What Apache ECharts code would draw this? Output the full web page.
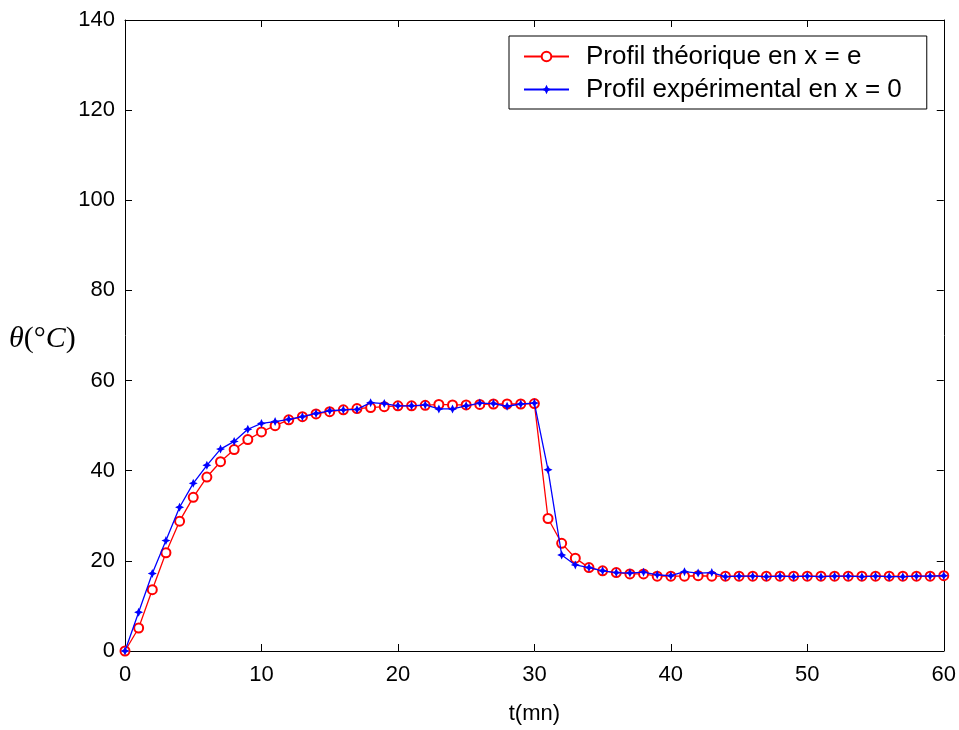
<!DOCTYPE html>
<html>
<head>
<meta charset="utf-8">
<script src="https://cdn.jsdelivr.net/npm/echarts@6/dist/echarts.min.js"></script>
<style>html,body{margin:0;padding:0;background:#fff;}#c{width:959px;height:730px;}</style>
</head>
<body>
<div id="c"></div>
<script>
// time in minutes, 0..60
const times = [];
for (let t = 0; t <= 60; t++) times.push(t);

const theoName = 'Profil théorique en x = e';
const expName = 'Profil expérimental en x = 0';

const theoValues = [
  0, 5.1, 13.6, 21.8, 28.8, 34.1, 38.6, 42.0, 44.7, 46.9,
  48.6, 50.0, 51.3, 52.0, 52.6, 53.1, 53.5, 53.8, 54.0, 54.2,
  54.4, 54.4, 54.5, 54.7, 54.6, 54.6, 54.7, 54.8, 54.8, 54.8,
  54.9, 29.4, 23.9, 20.6, 18.5, 17.8, 17.4, 17.1, 17.1, 16.6,
  16.6, 16.6, 16.7, 16.6, 16.6, 16.6, 16.6, 16.6, 16.6, 16.6,
  16.6, 16.6, 16.6, 16.6, 16.6, 16.6, 16.6, 16.6, 16.6, 16.6,
  16.7
];

const expValues = [
  0, 8.6, 17.2, 24.5, 31.9, 37.2, 41.2, 44.8, 46.5, 49.2,
  50.5, 50.9, 51.4, 52.0, 52.7, 53.3, 53.5, 53.6, 55.1, 54.9,
  54.4, 54.4, 54.6, 53.7, 53.7, 54.4, 55.0, 54.9, 54.3, 54.8,
  55.0, 40.2, 21.3, 19.1, 18.5, 17.8, 17.4, 17.3, 17.5, 16.9,
  16.7, 17.6, 17.3, 17.4, 16.5, 16.6, 16.6, 16.5, 16.6, 16.5,
  16.6, 16.5, 16.6, 16.6, 16.5, 16.6, 16.5, 16.5, 16.6, 16.6,
  16.7
];

const xTicks = { min: 0, max: 60, interval: 10 };
const yTicks = { min: 0, max: 140, interval: 20 };
const xLabel = 't(mn)';

const chart = echarts.init(document.getElementById('c'), null, { renderer: 'canvas' });

const font = 'Arial, "Liberation Sans", sans-serif';
const lineAx = { show: true, onZero: false, lineStyle: { color: '#000', width: 1 } };
const tickAx = { show: true, inside: true, length: 7, lineStyle: { color: '#000', width: 1 } };

const starPath = 'path://M0,-5 L1.6,-1.6 L5,0 L1.6,1.6 L0,5 L-1.6,1.6 L-5,0 L-1.6,-1.6 Z';
const serif = '"Liberation Serif", "Times New Roman", serif';

chart.setOption({
  animation: false,
  backgroundColor: '#fff',
  grid: { left: 125, right: 14, top: 20, bottom: 73, containLabel: false },
  xAxis: [
    {
      type: 'value', min: xTicks.min, max: xTicks.max, interval: xTicks.interval,
      position: 'bottom',
      axisLine: lineAx, axisTick: tickAx, splitLine: { show: false },
      axisLabel: { color: '#000', fontSize: 22, fontFamily: font, margin: 13 },
      name: xLabel, nameLocation: 'middle', nameGap: 52,
      nameTextStyle: { color: '#000', fontSize: 22, fontFamily: font }
    },
    {
      type: 'value', min: xTicks.min, max: xTicks.max, interval: xTicks.interval,
      position: 'top',
      axisLine: lineAx, axisTick: tickAx, splitLine: { show: false },
      axisLabel: { show: false }
    }
  ],
  yAxis: [
    {
      type: 'value', min: yTicks.min, max: yTicks.max, interval: yTicks.interval,
      position: 'left',
      axisLine: lineAx, axisTick: tickAx, splitLine: { show: false },
      axisLabel: { color: '#000', fontSize: 22, fontFamily: font, margin: 10 }
    },
    {
      type: 'value', min: yTicks.min, max: yTicks.max, interval: yTicks.interval,
      position: 'right',
      axisLine: lineAx, axisTick: tickAx, splitLine: { show: false },
      axisLabel: { show: false }
    }
  ],
  graphic: [
    {
      type: 'text', left: 9, top: 324,
      style: {
        text: '{i|θ}{u|(°}{i|C}{u|)}',
        fill: '#000',
        rich: {
          i: { fontStyle: 'italic', fontSize: 30, fontFamily: serif, fill: '#000' },
          u: { fontSize: 30, fontFamily: serif, fill: '#000' }
        }
      }
    }
  ],
  legend: {
    orient: 'vertical',
    left: 509, top: 36,
    data: [theoName, expName],
    backgroundColor: '#fff',
    borderColor: '#000', borderWidth: 1,
    padding: [5, 25, 4, 14],
    itemWidth: 45, itemHeight: 12, itemGap: 2,
    textStyle: { color: '#000', fontSize: 26, fontFamily: font, lineHeight: 31, padding: [0, 0, 0, 12] }
  },
  series: [
    {
      name: theoName, type: 'line',
      data: times.map((t, i) => [t, theoValues[i]]),
      xAxisIndex: 0, yAxisIndex: 0,
      symbol: 'emptyCircle', symbolSize: 9,
      itemStyle: { color: '#ff0000', borderColor: '#ff0000', borderWidth: 1.3 },
      lineStyle: { color: '#ff0000', width: 1.3 },
      z: 2
    },
    {
      name: expName, type: 'line',
      data: times.map((t, i) => [t, expValues[i]]),
      xAxisIndex: 0, yAxisIndex: 0,
      symbol: starPath, symbolSize: 9,
      itemStyle: { color: '#0000ff' },
      lineStyle: { color: '#0000ff', width: 1.3 },
      z: 3
    }
  ]
});
</script>
</body>
</html>
